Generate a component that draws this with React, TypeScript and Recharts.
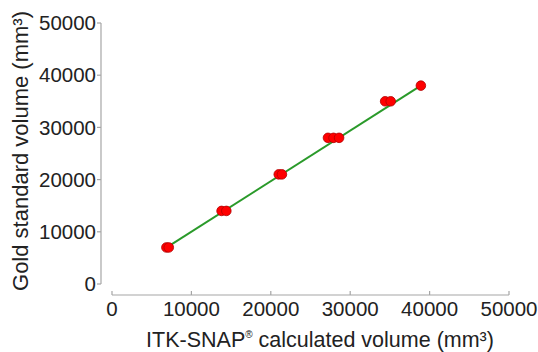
import { ScatterChart, Scatter, XAxis, YAxis } from 'recharts';

// measured volumes (mm³)
const calcVolume = [6850, 7150, 13800, 14400, 21000, 21400, 27200, 27900, 28600, 34400, 35100, 38900];
const goldVolume = [7000, 7000, 14000, 14000, 21000, 21000, 28000, 28000, 28000, 35000, 35000, 38000];

// fitted line end points
const fitX = [6900, 38900];
const fitY = [7000, 38000];

const axisTicks = [0, 10000, 20000, 30000, 40000, 50000];

const points = calcVolume.map((x, i) => ({ x, y: goldVolume[i] }));
const fitLine = fitX.map((x, i) => ({ x, y: fitY[i] }));

const FONT = '"Liberation Sans", Arial, sans-serif';
const TEXT = '#222';
const AXIS = '#a6a6a6';

const Dot = (props: any) => (
  <circle cx={props.cx} cy={props.cy} r={4.8} fill="#ff0000" stroke="#b00000" strokeWidth={0.8} />
);

const XLabel = () => (
  <text x={320} y={347} textAnchor="middle" fontFamily={FONT} fontSize={21.5} fill={TEXT}>
    ITK-SNAP
    <tspan fontSize={10} dy={-9}>®</tspan>
    <tspan dy={9}> calculated volume (mm³)</tspan>
  </text>
);

const YLabel = () => (
  <text
    x={0}
    y={0}
    transform="translate(28,151) rotate(-90)"
    textAnchor="middle"
    fontFamily={FONT}
    fontSize={22}
    fill={TEXT}
  >
    Gold standard volume (mm³)
  </text>
);

export default function App() {
  return (
    <div style={{ position: 'absolute', left: 0, top: 0, background: '#fff' }}>
      <ScatterChart width={538} height={352} margin={{ top: 23, right: 29, bottom: 0, left: 0 }}>
        <XAxis
          type="number"
          dataKey="x"
          domain={[0, 50000]}
          ticks={axisTicks}
          interval={0}
          height={68}
          tickSize={4}
          tickMargin={13}
          axisLine={{ stroke: AXIS, strokeWidth: 1.2, transform: 'translate(0,11)' }}
          tickLine={{ stroke: AXIS, strokeWidth: 1.2, transform: 'translate(0,7)' }}
          tick={{ fill: TEXT, fontSize: 20.5, fontFamily: FONT }}
          label={{ content: XLabel }}
        />
        <YAxis
          type="number"
          dataKey="y"
          domain={[0, 50000]}
          ticks={axisTicks}
          interval={0}
          width={112}
          tickSize={4}
          tickMargin={12}
          axisLine={{ stroke: AXIS, strokeWidth: 1.2, transform: 'translate(-11,0)' }}
          tickLine={{ stroke: AXIS, strokeWidth: 1.2, transform: 'translate(-11,0)' }}
          tick={{ fill: TEXT, fontSize: 20.5, fontFamily: FONT }}
          label={{ content: YLabel }}
        />
        <Scatter
          data={fitLine}
          line={{ stroke: '#2a9a2a', strokeWidth: 2 }}
          shape={() => <g />}
          isAnimationActive={false}
        />
        <Scatter data={points} shape={Dot} isAnimationActive={false} />
      </ScatterChart>
    </div>
  );
}
